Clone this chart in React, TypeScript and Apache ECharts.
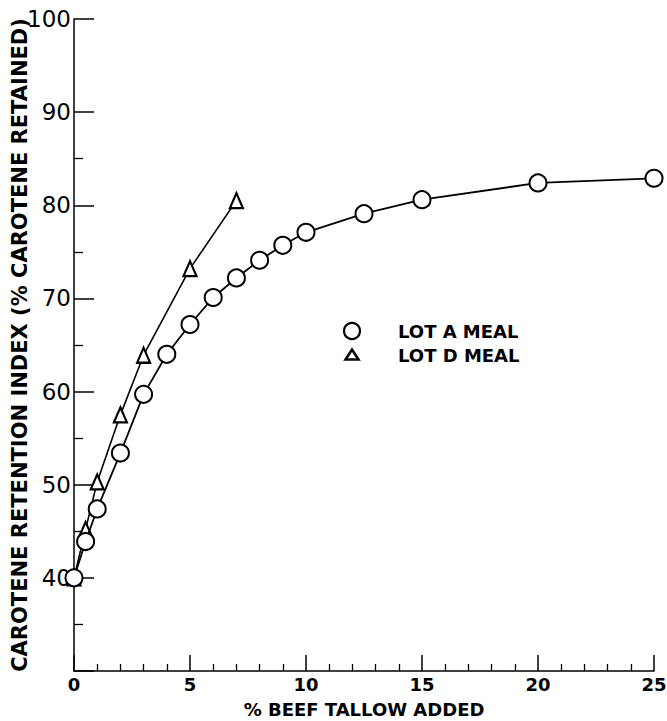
import React, { useEffect, useRef } from "react";
import * as echarts from "echarts";

const lotA: [number, number][] = [
  [0, 40], [0.5, 43.9], [1, 47.4], [2, 53.4], [3, 59.7], [4, 64.0], [5, 67.2],
  [6, 70.1], [7, 72.2], [8, 74.1], [9, 75.7], [10, 77.1], [12.5, 79.1],
  [15, 80.6], [20, 82.4], [25, 82.9],
];
const lotD: [number, number][] = [
  [0, 40], [0.5, 45.2], [1, 50.3], [2, 57.5], [3, 63.9], [5, 73.2], [7, 80.5],
];
const yMinorTicks = [35, 45, 55, 65, 75, 85];
const seriesNames = ["LOT A MEAL", "LOT D MEAL"];
const xTitle = "% BEEF TALLOW ADDED";
const yTitle = "CAROTENE RETENTION INDEX (% CAROTENE RETAINED)";

const FONT = "DejaVu Sans";
const INK = "#000";

export default function App() {
  const ref = useRef<HTMLDivElement>(null);
  useEffect(() => {
    if (!ref.current) return;
    const chart = echarts.init(ref.current, null, { renderer: "svg" });
    chart.setOption({
      animation: false,
      backgroundColor: "#fff",
      textStyle: { fontFamily: FONT, color: INK },
      grid: { left: 74, right: 13, top: 19, bottom: 50, containLabel: false, outerBoundsMode: "none" },
      xAxis: {
        type: "value",
        min: 0,
        max: 25,
        interval: 5,
        splitLine: { show: false },
        axisLine: { lineStyle: { color: INK, width: 1.5 } },
        axisTick: { inside: true, length: 16, lineStyle: { color: INK, width: 1.5 } },
        minorTick: { show: true, splitNumber: 5, length: 7, lineStyle: { color: INK, width: 1.3 } },
        axisLabel: { color: INK, fontFamily: FONT, fontSize: 18, fontWeight: "bold", margin: 4 },
        name: xTitle,
        nameLocation: "middle",
        nameGap: 29,
        nameMoveOverlap: false,
        nameTextStyle: { color: INK, fontFamily: FONT, fontSize: 18, fontWeight: "bold" },
      },
      yAxis: [
        {
          type: "value",
          min: 30,
          max: 100,
          interval: 10,
          splitLine: { show: false },
          axisLine: { show: true, lineStyle: { color: INK, width: 1.5 } },
          axisTick: { show: true, inside: true, length: 20, lineStyle: { color: INK, width: 1.5 } },
          axisLabel: {
            color: INK,
            fontFamily: FONT,
            fontSize: 23,
            margin: 3,
            formatter: (v: number) => (v === 30 ? "" : String(v)),
          },
          name: yTitle,
          nameLocation: "middle",
          nameRotate: 90,
          nameGap: 54,
          nameMoveOverlap: false,
          nameTextStyle: {
            color: INK,
            fontFamily: FONT,
            fontSize: 21,
            fontWeight: "bold",
            verticalAlign: "middle",
          },
        },
        {
          type: "value",
          min: 30,
          max: 100,
          position: "left",
          splitLine: { show: false },
          axisLine: { show: false },
          axisLabel: { show: false },
          axisTick: {
            show: true,
            inside: true,
            length: 9,
            customValues: yMinorTicks,
            lineStyle: { color: INK, width: 1.3 },
          },
        },
      ],
      series: [
        {
          name: seriesNames[1],
          type: "line",
          data: lotD,
          symbol: "triangle",
          symbolSize: [13, 15],
          lineStyle: { color: INK, width: 1.6 },
          itemStyle: { color: "#fff", borderColor: INK, borderWidth: 2.2 },
          z: 2,
        },
        {
          name: seriesNames[0],
          type: "line",
          data: lotA,
          symbol: "circle",
          symbolSize: 17,
          lineStyle: { color: INK, width: 1.8 },
          itemStyle: { color: "#fff", borderColor: INK, borderWidth: 2 },
          z: 3,
        },
      ],
      graphic: [
        {
          type: "circle",
          shape: { cx: 352, cy: 331, r: 8 },
          style: { fill: "#fff", stroke: INK, lineWidth: 2.2 },
        },
        {
          type: "polygon",
          shape: { points: [[345.5, 359.5], [358.5, 359.5], [352, 349.5]] },
          style: { fill: "#fff", stroke: INK, lineWidth: 2.5 },
        },
        {
          type: "text",
          x: 398,
          y: 331,
          style: {
            text: seriesNames[0],
            fill: INK,
            font: `bold 18px "${FONT}"`,
            verticalAlign: "middle",
          },
        },
        {
          type: "text",
          x: 398,
          y: 355,
          style: {
            text: seriesNames[1],
            fill: INK,
            font: `bold 18px "${FONT}"`,
            verticalAlign: "middle",
          },
        },
      ],
    });
    return () => chart.dispose();
  }, []);
  return (
    <div
      ref={ref}
      style={{ position: "absolute", left: 0, top: 0, width: 667, height: 721, background: "#fff" }}
    />
  );
}
